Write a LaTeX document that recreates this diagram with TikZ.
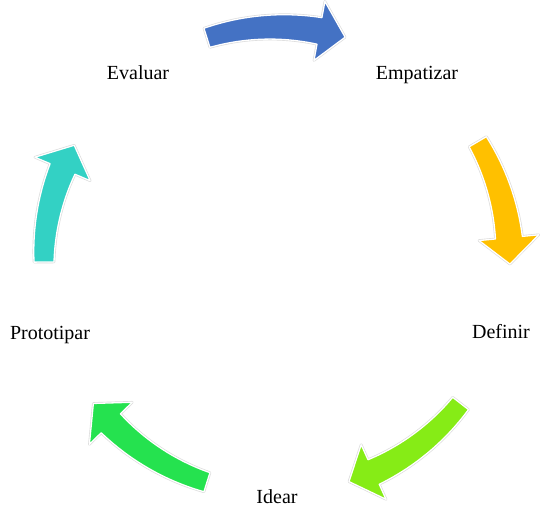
\documentclass[tikz,border=0pt]{standalone}
\usepackage{fontspec}
\setmainfont{Liberation Serif}
\usepackage{xcolor}

\definecolor{cycblue}{HTML}{4472C4}
\definecolor{cycorange}{HTML}{FFC000}
\definecolor{cyclime}{HTML}{86EC16}
\definecolor{cycgreen}{HTML}{25E24F}
\definecolor{cycteal}{HTML}{33D1C4}

% block arrow along the circle: style, tail angle, tip angle
% (shaft widens a little from tail to head)
\newcommand{\cyclearrow}[3]{%
  \pgfmathsetmacro{\hb}{#3+6.5}
  \path[#1] plot[domain=#2:\hb, samples=24] (\x:{243+3.5*(\x-#2)/(\hb-#2)})
    -- (\hb:263) -- (#3:233) -- (\hb:203)
    -- plot[domain=\hb:#2, samples=24] (\x:{223-3.5*(\x-#2)/(\hb-#2)}) -- cycle;
}

\begin{document}
\begin{tikzpicture}[
    x=1pt, y=1pt,
    blockarrow/.style={fill=#1, draw=white, line width=1.3pt, line join=round,
        preaction={draw=black!14, line width=2.6pt, line join=round}},
    label/.style={font=\fontsize{20}{24}\selectfont, anchor=base, inner sep=0pt}
]
\useasboundingbox (-277,-249) rectangle (267,260);

% arrows round the cycle
\cyclearrow{blockarrow=cycblue}{107.5}{73}
\cyclearrow{blockarrow=cycorange}{30.5}{-1}
\cyclearrow{blockarrow=cyclime}{-38}{-72}
\cyclearrow{blockarrow=cycgreen}{252.5}{218}
\cyclearrow{blockarrow=cycteal}{180.5}{150.5}

% stages
\node[label] (empatizar) at (140,180) {Empatizar};
\node[label] (definir) at (224,-78) {Definir};
\node[label] (idear) at (0,-243) {Idear};
\node[label] (prototipar) at (-227,-79) {Prototipar};
\node[label] (evaluar) at (-139,180) {Evaluar};

\end{tikzpicture}
\end{document}
